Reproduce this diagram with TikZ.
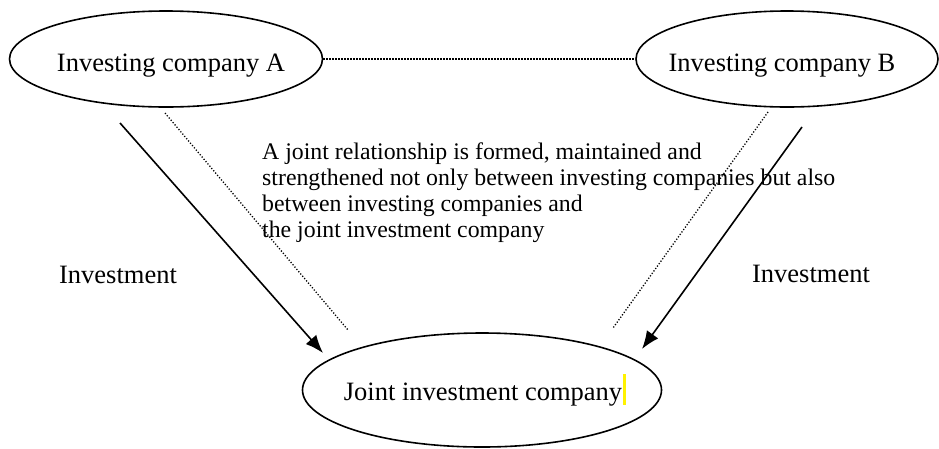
\documentclass[tikz,border=0pt]{standalone}
\usepackage{fontspec}
\setmainfont{Liberation Serif}
\usetikzlibrary{
arrows.meta,
positioning,
shapes
}
\tikzset{>=latex}
\tikzset{
  company/.style={draw, ellipse, line width=1.6pt, inner sep=0pt},
  invest/.style={-{Latex[length=18pt,width=14pt]}, line width=1.6pt},
  tie/.style={line width=1.3pt, dash pattern=on 1.2pt off 1.8pt}
}

\begin{document}
\begin{tikzpicture}[x=1pt, y=-1pt, font=\fontsize{26.5}{30}\selectfont]
		\useasboundingbox (0,0) rectangle (939,448);

		\node[company, minimum width=313pt, minimum height=96pt]  (compA)   at (166,59)  {};
		\node[company, minimum width=302pt, minimum height=96pt]  (compB)   at (787,59)  {};
		\node[company, minimum width=359pt, minimum height=114pt] (joint)   at (482,390) {};

		\node[anchor=base]  (labA)     at (171,71)  {Investing company A};
		\node[anchor=base]  (labB)     at (782,71)  {Investing company B};
		\node[anchor=base]  (labJ)     at (483,400) {Joint investment company};

		\node[anchor=base]  (investA)  at (118,283) {Investment};
		\node[anchor=base]  (investB)  at (811,282) {Investment};

		\node[anchor=base west, inner sep=0pt, align=left,
		      font=\fontsize{23.8}{25.8}\selectfont] (relation) at (262,237)
		      {A joint relationship is formed, maintained and\\
		       strengthened not only between investing companies but also\\
		       between investing companies and\\
		       the joint investment company};

		% arrow ends
		\coordinate (aStart) at (120,123);
		\coordinate (aEnd)   at (323,353);
		\coordinate (bStart) at (802,127);
		\coordinate (bEnd)   at (642,349);
		\coordinate (aTie)   at (165,113);
		\coordinate (aTieJ)  at (348,330);
		\coordinate (bTie)   at (768,112);
		\coordinate (bTieJ)  at (613,328);

		\draw[tie] (compA.east) -- (compB.west);
		\draw[invest] (aStart) -- (aEnd);
		\draw[invest] (bStart) -- (bEnd);
		\draw[tie] (aTie) -- (aTieJ);
		\draw[tie] (bTie) -- (bTieJ);

		\fill[yellow] (623,374) rectangle (625.5,405);
	\end{tikzpicture}
\end{document}
